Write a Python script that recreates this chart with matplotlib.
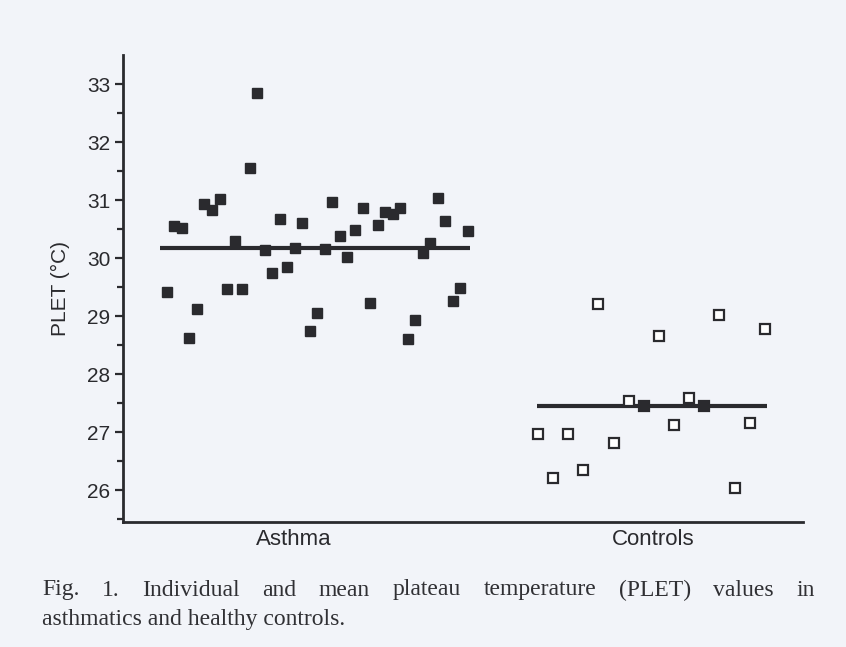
import numpy as np
import matplotlib
matplotlib.use("Agg")
from matplotlib import pyplot as plt

groups = ["Asthma", "Controls"]

asthma = [29.41, 30.55, 30.51, 28.63, 29.12, 30.93, 30.83, 31.02, 29.46, 30.30,
          29.46, 31.56, 32.84, 30.13, 29.74, 30.67, 29.84, 30.18, 30.61, 28.74,
          29.05, 30.15, 30.96, 30.38, 30.02, 30.48, 30.86, 29.22, 30.57, 30.80,
          30.76, 30.87, 28.60, 28.93, 30.08, 30.26, 31.03, 30.63, 29.26, 29.49,
          30.47]
controls = [26.97, 26.20, 26.96, 26.34, 29.20, 26.81, 27.54, 27.45, 28.66, 27.13,
            27.59, 27.45, 29.02, 26.04, 27.15, 28.77]
# the two control points that sit on the mean line look solid
controls_solid = [False, False, False, False, False, False, False, True, False, False,
                  False, True, False, False, False, False]
means = [30.17, 27.45]

yticks = [26, 27, 28, 29, 30, 31, 32, 33]
caption = ["Fig. 1. Individual and mean plateau temperature (PLET) values in",
           "asthmatics and healthy controls."]

ink = "#2a2a2e"
bg = "#f2f4f9"

fig = plt.figure(figsize=(8.46, 6.47), dpi=100, facecolor=bg)
ax = fig.add_axes([0.1454, 0.1932, 0.8036, 0.7218])
ax.set_facecolor(bg)

# spread of the individual points around each group position
xa = 1 + np.linspace(-0.354, 0.485, len(asthma))
xc = 2 + np.linspace(-0.320, 0.312, len(controls))

ax.plot([1 - 0.373, 1 + 0.490], [means[0]] * 2, color=ink, lw=3, solid_capstyle="butt", zorder=2)
ax.plot([2 - 0.323, 2 + 0.318], [means[1]] * 2, color=ink, lw=3, solid_capstyle="butt", zorder=2)

ax.plot(xa, asthma, "s", ms=7.5, color=ink, mec=ink, zorder=3)
for x, y, solid in zip(xc, controls, controls_solid):
    ax.plot(x, y, "s", ms=6.5, mec=ink, mew=1.6,
            mfc=ink if solid else "white", zorder=3)

ax.set_xlim(0.524, 2.418)
ax.set_ylim(25.45, 33.5)
ax.set_yticks(yticks)
ax.set_yticks(np.arange(25.5, 33.5, 1.0), minor=True)
ax.set_xticks([1, 2])
ax.set_xticklabels(groups, fontsize=16, family="Liberation Sans", color=ink)
ax.tick_params(axis="x", length=0, pad=5)
ax.tick_params(axis="y", which="major", length=6, width=1.6, color=ink,
               labelsize=15, labelcolor=ink, pad=3)
ax.tick_params(axis="y", which="minor", length=4, width=1.6, color=ink)
for lab in ax.get_yticklabels():
    lab.set_family("Liberation Sans")

for s in ["top", "right"]:
    ax.spines[s].set_visible(False)
for s in ["left", "bottom"]:
    ax.spines[s].set_linewidth(2)
    ax.spines[s].set_color(ink)

ax.set_ylabel("PLET (°C)", fontsize=15, family="Liberation Sans", color=ink, labelpad=12)

# caption, first line justified across the figure width
left_px, right_px = 42, 815
W, H = fig.get_size_inches() * fig.dpi
fig.canvas.draw()
renderer = fig.canvas.get_renderer()
words = caption[0].split()
texts = [fig.text(0, 1 - 590 / H, w, fontsize=17, family="Liberation Serif",
                  color="#303034", va="center") for w in words]
widths = [t.get_window_extent(renderer).width for t in texts]
gap = (right_px - left_px - sum(widths)) / (len(words) - 1)
x = left_px
for t, w in zip(texts, widths):
    t.set_x(x / W)
    x += w + gap
fig.text(left_px / W, 1 - 620 / H, caption[1], fontsize=17, family="Liberation Serif",
         color="#303034", va="center")

fig.savefig("out.png", dpi=100, facecolor=bg)
